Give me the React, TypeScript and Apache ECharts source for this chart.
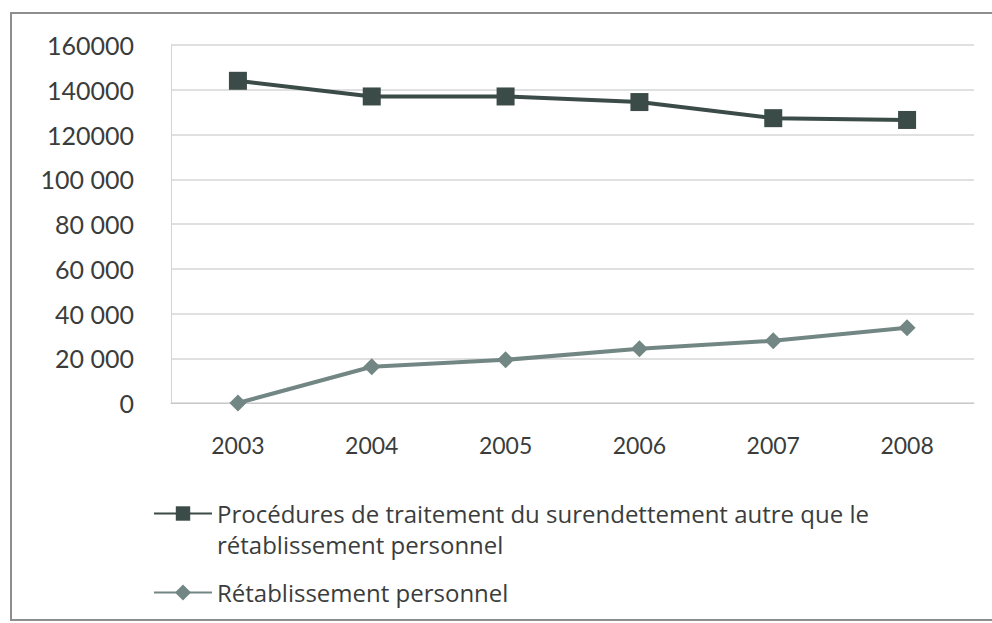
import React, { useEffect, useRef } from "react";
import * as echarts from "echarts";

const years = ["2003", "2004", "2005", "2006", "2007", "2008"];
const proceduresValues = [144000, 137000, 137000, 134500, 127300, 126500];
const retablissementValues = [0, 16200, 19300, 24200, 27800, 33600];
const yTickLabels = ["0", "20 000", "40 000", "60 000", "80 000", "100 000", "120000", "140000", "160000"];

const S1 = "Procédures de traitement du surendettement autre que le rétablissement personnel";
const S1_LABEL = "\nProcédures de traitement du surendettement autre que le\nrétablissement personnel";
const S2 = "Rétablissement personnel";

const FONT = "Lato";
const LEGEND_FONT = "Open Sans";
const TEXT = "#3a3d3c";

export default function App() {
  const ref = useRef<HTMLDivElement>(null);
  useEffect(() => {
    if (!ref.current) return;
    const chart = echarts.init(ref.current, null, { renderer: "svg" });
    chart.setOption({
      animation: false,
      backgroundColor: "#ffffff",
      graphic: [
        {
          type: "rect",
          shape: { x: 11, y: 13, width: 1000, height: 607 },
          style: { fill: "none", stroke: "#8e8e8e", lineWidth: 2 },
          silent: true,
          z: -1,
        },
      ],
      grid: { left: 171, right: 18, top: 45, bottom: 220 },
      xAxis: {
        type: "category",
        data: years,
        boundaryGap: true,
        axisLine: { show: true, lineStyle: { color: "#c8c8c8", width: 1 } },
        axisTick: { show: false },
        axisLabel: { margin: 30, fontFamily: FONT, fontSize: 23, color: TEXT },
        splitLine: { show: false },
      },
      yAxis: {
        type: "value",
        min: 0,
        max: 160000,
        interval: 20000,
        axisLine: { show: true, lineStyle: { color: "#d4d4d4", width: 1 } },
        axisTick: { show: false },
        axisLabel: {
          margin: 37,
          fontFamily: FONT,
          fontSize: 25,
          color: TEXT,
          formatter: (v: number) => yTickLabels[Math.round(v / 20000)] ?? String(v),
        },
        splitLine: { show: true, lineStyle: { color: "#d6d6d6", width: 1.5 } },
      },
      legend: [
        {
          data: [S1],
          orient: "vertical",
          left: 153,
          top: 467,
          padding: 0,
          itemWidth: 58,
          itemHeight: 18,
          selectedMode: false,
          formatter: () => S1_LABEL,
          textStyle: {
            fontFamily: LEGEND_FONT,
            fontSize: 24,
            color: TEXT,
            lineHeight: 31,
          },
        },
        {
          data: [S2],
          orient: "vertical",
          left: 153,
          top: 577,
          padding: 0,
          itemWidth: 58,
          itemHeight: 20,
          selectedMode: false,
          textStyle: { fontFamily: LEGEND_FONT, fontSize: 24, color: TEXT, lineHeight: 31 },
        },
      ],
      series: [
        {
          name: S1,
          type: "line",
          data: proceduresValues,
          symbol: "rect",
          symbolSize: 18,
          lineStyle: { color: "#3b4b47", width: 4 },
          itemStyle: { color: "#3b4b47" },
          z: 3,
        },
        {
          name: S2,
          type: "line",
          data: retablissementValues,
          symbol: "diamond",
          symbolSize: 17,
          lineStyle: { color: "#728784", width: 4 },
          itemStyle: { color: "#728784" },
          z: 2,
        },
      ],
    });
    return () => chart.dispose();
  }, []);
  return (
    <div
      ref={ref}
      style={{ position: "fixed", left: 0, top: 0, width: 992, height: 623, background: "#fff" }}
    />
  );
}
